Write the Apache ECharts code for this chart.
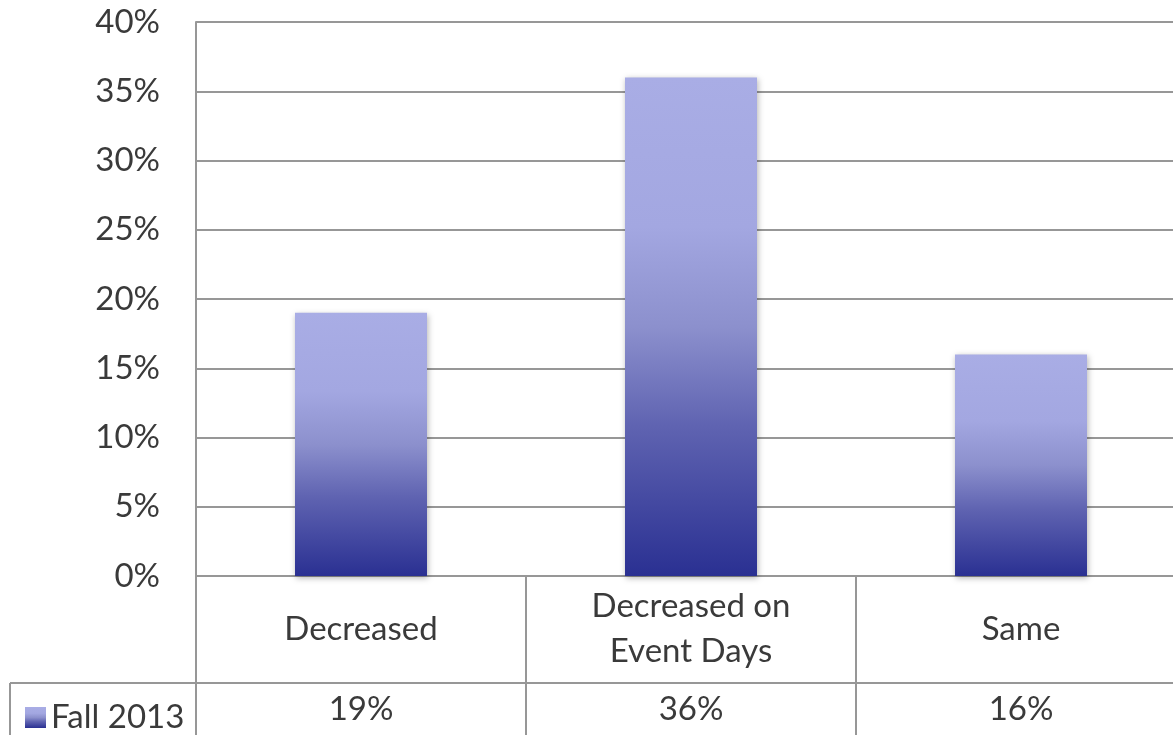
<!DOCTYPE html>
<html>
<head>
<meta charset="utf-8">
<script src="https://cdn.jsdelivr.net/npm/echarts@6/dist/echarts.min.js"></script>
<style>
html,body{margin:0;padding:0;background:#fff;}
#c{width:1173px;height:735px;}
</style>
</head>
<body>
<div id="c"></div>
<script>
const categories = ['Decreased', 'Decreased on\nEvent Days', 'Same'];
const seriesName = 'Fall 2013';
const values = [19, 36, 16];
const yTicks = [0, 5, 10, 15, 20, 25, 30, 35, 40];

const FONT = 'Lato';
const TXT = '#3a3a3a';
const LINE = '#979797';
const FS = 33;

const grad = new echarts.graphic.LinearGradient(0, 0, 0, 1, [
  {offset: 0, color: '#A9ADE5'},
  {offset: 0.3, color: '#A3A7E1'},
  {offset: 0.5, color: '#8C90CD'},
  {offset: 0.7, color: '#5F63B1'},
  {offset: 1, color: '#2A3092'}
]);

const chart = echarts.init(document.getElementById('c'));
chart.setOption({
  animation: false,
  backgroundColor: '#fff',
  grid: {left: 196, top: 22, width: 990, height: 554, containLabel: false, outerBoundsMode: 'none'},
  legend: {
    data: [seriesName],
    left: 20, top: 696,
    itemWidth: 21, itemHeight: 21, itemGap: 10,
    icon: 'rect',
    textStyle: {fontFamily: FONT, fontSize: FS, color: TXT, padding: [0,0,0,0]}
  },
  xAxis: [
    {
      type: 'category',
      data: categories,
      position: 'bottom',
      axisLine: {show: true, lineStyle: {color: LINE, width: 2}},
      axisTick: {show: true, length: 159, lineStyle: {color: LINE, width: 2}},
      axisLabel: {
        margin: 53, verticalAlign: 'middle', lineHeight: 45,
        fontFamily: FONT, fontSize: FS, color: TXT, interval: 0
      },
      splitLine: {show: false}
    },
    {
      type: 'category',
      data: categories,
      position: 'bottom',
      offset: 107,
      axisLine: {show: true, lineStyle: {color: LINE, width: 2}},
      axisTick: {show: false},
      axisLabel: {
        margin: 26, verticalAlign: 'middle',
        fontFamily: FONT, fontSize: FS, color: TXT, interval: 0,
        formatter: function (v, i) { return values[i] + '%'; }
      }
    }
  ],
  yAxis: {
    type: 'value',
    min: yTicks[0], max: yTicks[yTicks.length - 1], interval: 5,
    axisLine: {show: true, lineStyle: {color: LINE, width: 2}},
    axisTick: {show: false},
    axisLabel: {
      margin: 36, fontFamily: FONT, fontSize: FS, color: TXT,
      formatter: function (v) { return v + '%'; }
    },
    splitLine: {show: true, lineStyle: {color: LINE, width: 2}}
  },
  series: [{
    name: seriesName,
    type: 'bar',
    data: values,
    xAxisIndex: 0,
    barWidth: '40%',
    itemStyle: {
      color: grad,
      shadowBlur: 6, shadowColor: 'rgba(0,0,0,0.3)',
      shadowOffsetX: 1, shadowOffsetY: 2
    }
  }],
  graphic: [
    {type: 'line', shape: {x1: 10, y1: 683, x2: 197, y2: 683}, style: {stroke: LINE, lineWidth: 2}},
    {type: 'line', shape: {x1: 10, y1: 683, x2: 10, y2: 735}, style: {stroke: LINE, lineWidth: 2}}
  ]
});
</script>
</body>
</html>
